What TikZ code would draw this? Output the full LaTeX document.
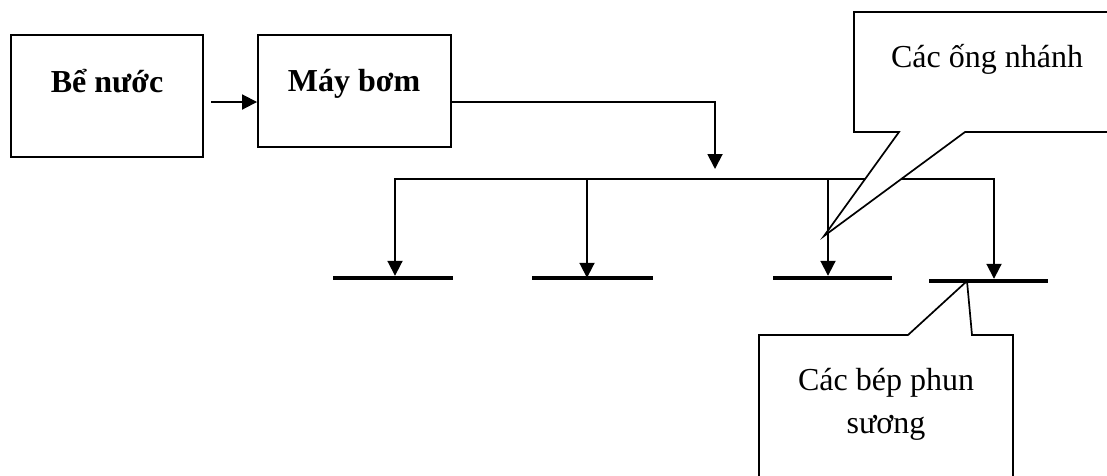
\documentclass[tikz,border=0pt]{standalone}
\usepackage{fontspec}
\setmainfont{Liberation Serif}
\usetikzlibrary{arrows.meta}
\begin{document}
\begin{tikzpicture}[x=1pt,y=-1pt,
  box/.style={draw,line width=1.9pt,inner sep=0pt},
  pipe/.style={line width=1.9pt,line join=miter},
  flow/.style={pipe,-{Triangle[width=15pt,length=15pt]}},
  bar/.style={fill=black,inner sep=0pt,minimum height=4pt},
  lbl/.style={font=\fontsize{32}{43}\selectfont,inner sep=0pt,anchor=base,align=center},
  callout/.style={draw,line width=1.7pt,fill=white,line join=miter}]
\useasboundingbox (0,0) rectangle (1107,475);
\clip (0,0) rectangle (1107,475);

% tank and pump
\node[box,minimum width=192pt,minimum height=122pt] (tank) at (107,96) {};
\node[box,minimum width=193pt,minimum height=112pt] (pump) at (354.5,91) {};
\node[lbl,font=\fontsize{32}{43}\selectfont\bfseries] (tanktext) at (107,92) {Bể nước};
\node[lbl,font=\fontsize{32}{43}\selectfont\bfseries] (pumptext) at (354,91) {Máy bơm};

\coordinate (a0) at (211,102);
\draw[flow] (a0) -- (pump.west |- a0);

% main supply pipe
\coordinate (p1) at (715,102);
\coordinate (p2) at (715,169);
\draw[flow] (pump.east |- p1) -- (p1) -- (p2);

% spray nozzles
\node[bar,minimum width=120pt] (n1) at (393,278) {};
\node[bar,minimum width=121pt] (n2) at (592.5,278) {};
\node[bar,minimum width=119pt] (n3) at (832.5,278) {};
\node[bar,minimum width=119pt] (n4) at (988.5,281) {};

% header and branch pipes
\coordinate (j1) at (395,179);
\coordinate (j2) at (587,179);
\coordinate (j3) at (828,179);
\coordinate (j4) at (994,179);
\draw[flow] (j3) -- (j1) -- (n1.north -| j1);
\draw[flow] (j3) -- (j4) -- (n4.north -| j4);
\draw[flow] (j2) -- ([yshift=-2pt]n2.north -| j2);
\draw[flow] (j3) -- (n3.north -| j3);

% callouts
\draw[callout] (854,12) -- (1120,12) -- (1120,132) -- (965,132) -- (824,236)
  -- (899,132) -- (854,132) -- cycle;
\node[lbl] (branchtext) at (987,67) {Các ống nhánh};

\draw[callout] (759,490) -- (759,335) -- (908,335) -- (967,281) -- (972,335)
  -- (1013,335) -- (1013,490) -- cycle;
\node[lbl] (nozzletext) at (886,433) {Các bép phun\\sương};
\end{tikzpicture}
\end{document}
